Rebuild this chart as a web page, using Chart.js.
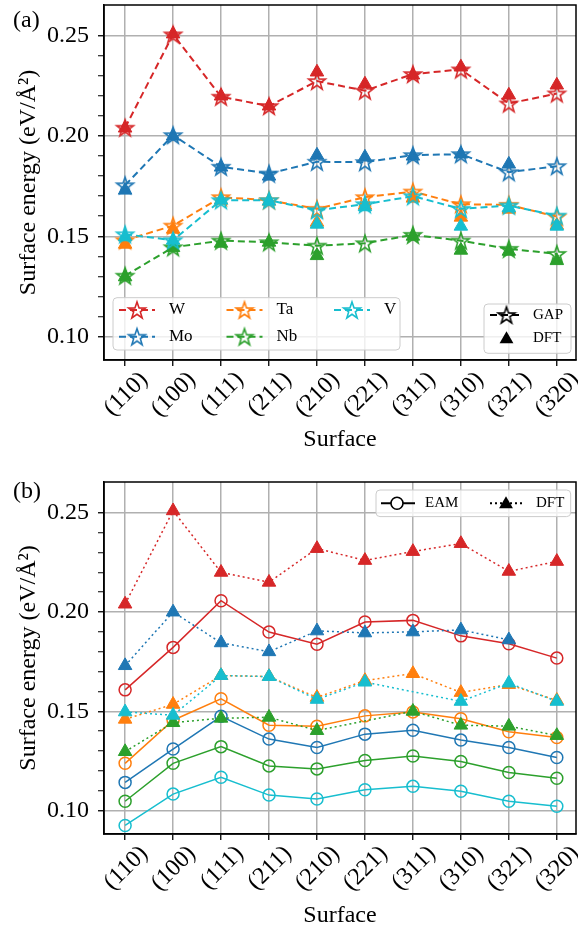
<!DOCTYPE html>
<html>
<head>
<meta charset="utf-8">
<script src="https://cdn.jsdelivr.net/npm/chart.js@4.4.1/dist/chart.umd.min.js"></script>
<style>
  html, body { margin: 0; padding: 0; background: #fff; }
  canvas { display: block; }
</style>
</head>
<body>
<canvas id="panelA" width="578" height="465"></canvas>
<canvas id="panelB" width="578" height="465"></canvas>
<script>
// surfaces on the x axis
const surfaces = ["(110)", "(100)", "(111)", "(211)", "(210)", "(221)", "(311)", "(310)", "(321)", "(320)"];
const elements = ["W", "Mo", "Ta", "Nb", "V"];
const colors = ["#d62728", "#1f77b4", "#ff7f0e", "#2ca02c", "#17becf"];

// GAP surface energies (eV/A^2)
const gapW  = [0.2042, 0.2508, 0.2197, 0.2150, 0.2275, 0.2227, 0.2310, 0.2333, 0.2163, 0.2213];
const gapMo = [0.1755, 0.2005, 0.1847, 0.1813, 0.1872, 0.1870, 0.1905, 0.1910, 0.1820, 0.1850];
const gapTa = [0.1480, 0.1553, 0.1695, 0.1680, 0.1637, 0.1695, 0.1723, 0.1660, 0.1657, 0.1598];
const gapNb = [0.1303, 0.1445, 0.1478, 0.1470, 0.1453, 0.1465, 0.1507, 0.1478, 0.1437, 0.1412];
const gapV  = [0.1510, 0.1480, 0.1680, 0.1680, 0.1630, 0.1660, 0.1700, 0.1637, 0.1653, 0.1603];

// DFT reference values (null = not computed)
const dftW  = [0.2040, 0.2510, 0.2200, 0.2150, 0.2320, 0.2260, 0.2305, 0.2345, 0.2205, 0.2255];
const dftMo = [0.1730, 0.2000, 0.1845, 0.1800, 0.1905, 0.1895, 0.1900, 0.1910, 0.1860, null];
const dftTa = [0.1460, 0.1535, 0.1680, 0.1675, 0.1570, 0.1655, 0.1690, 0.1595, 0.1635, 0.1555];
const dftNb = [0.1297, 0.1443, 0.1465, 0.1470, 0.1403, null, 0.1500, 0.1430, 0.1425, 0.1378];
const dftV  = [0.1497, 0.1480, 0.1680, 0.1675, 0.1560, 0.1647, null, 0.1550, 0.1642, 0.1550];

// EAM values
const eamW  = [0.1608, 0.1822, 0.2057, 0.1899, 0.1838, 0.1950, 0.1958, 0.1880, 0.1840, 0.1768];
const eamMo = [0.1142, 0.1310, 0.1475, 0.1360, 0.1318, 0.1385, 0.1405, 0.1355, 0.1318, 0.1267];
const eamTa = [0.1238, 0.1455, 0.1563, 0.1430, 0.1425, 0.1477, 0.1497, 0.1463, 0.1397, 0.1368];
const eamNb = [0.1047, 0.1238, 0.1322, 0.1225, 0.1210, 0.1252, 0.1275, 0.1247, 0.1192, 0.1163];
const eamV  = [0.0925, 0.1083, 0.1168, 0.1078, 0.1058, 0.1105, 0.1122, 0.1097, 0.1047, 0.1022];

const gapAll = [gapW, gapMo, gapTa, gapNb, gapV];
const dftAll = [dftW, dftMo, dftTa, dftNb, dftV];
const eamAll = [eamW, eamMo, eamTa, eamNb, eamV];

const SERIF = "'Liberation Serif', 'DejaVu Serif', serif";
const GRID = "#b0b0b0";

// missing values are dropped so the line joins its neighbours
const pts = (arr) => arr.map((v, i) => (v == null ? null : { x: i, y: v })).filter((p) => p);

function starPath(ctx, cx, cy, R) {
  const r = R * 0.4;
  ctx.beginPath();
  for (let k = 0; k < 10; k++) {
    const a = -Math.PI / 2 + (k * Math.PI) / 5;
    const rr = k % 2 ? r : R;
    ctx.lineTo(cx + rr * Math.cos(a), cy + rr * Math.sin(a));
  }
  ctx.closePath();
}

function starImage(color) {
  const R = 8.8, s = Math.ceil(2 * R + 4);
  const c = document.createElement("canvas");
  c.width = c.height = s;
  const g = c.getContext("2d");
  starPath(g, s / 2, s / 2 + 0.8, R);
  g.strokeStyle = color;
  g.lineWidth = 1.6;
  g.stroke();
  return c;
}

function triPath(ctx, cx, cy, r) {
  ctx.beginPath();
  for (let k = 0; k < 3; k++) {
    const a = -Math.PI / 2 + (k * 2 * Math.PI) / 3;
    ctx.lineTo(cx + r * Math.cos(a), cy + r * Math.sin(a));
  }
  ctx.closePath();
}

const isMajor = (v) => Math.abs(v * 20 - Math.round(v * 20)) < 1e-6;

function makeScales(xHeight, titlePadBottom) {
  return {
    x: {
      type: "linear",
      min: -0.44,
      max: 9.4,
      afterBuildTicks: (s) => { s.ticks = surfaces.map((_, i) => ({ value: i })); },
      afterFit: (s) => { s.height = xHeight; s.paddingLeft = 0; s.paddingRight = 0; },
      ticks: {
        autoSkip: false, minRotation: 45, maxRotation: 45,
        callback: (v) => surfaces[v], labelOffset: 19, padding: 0,
        color: "#000", font: { family: SERIF, size: 24 },
      },
      grid: { color: GRID, lineWidth: 1.5, tickColor: "#000", tickLength: 6, tickWidth: 1.3 },
      border: { color: "#000", width: 1.5 },
      title: { display: true, text: "Surface", color: "#000", font: { family: SERIF, size: 24 },
               padding: { top: 0, bottom: titlePadBottom } },
    },
    y: {
      min: 0.0882,
      max: 0.2655,
      afterFit: (s) => { s.width = 104; s.paddingTop = 0; s.paddingBottom = 0; },
      afterBuildTicks: (s) => {
        s.ticks = s.ticks.filter((t) => Math.abs(t.value * 100 - Math.round(t.value * 100)) < 1e-6);
      },
      ticks: {
        stepSize: 0.01, autoSkip: false, padding: 9,
        callback: (v) => (isMajor(v) ? v.toFixed(2) : ""),
        color: "#000", font: { family: SERIF, size: 24 },
      },
      grid: {
        color: (c) => (isMajor(c.tick.value) ? GRID : "rgba(0,0,0,0)"),
        lineWidth: 1.5, tickColor: "#000", tickLength: 6,
        tickWidth: (c) => (isMajor(c.tick.value) ? 1.3 : 1),
      },
      border: { color: "#000", width: 1.5 },
      title: { display: true, text: "Surface energy (eV/Å²)", color: "#000",
               font: { family: SERIF, size: 24 }, padding: { top: 14, bottom: 0 } },
    },
  };
}

function legendBox(ctx, x1, y1, x2, y2) {
  ctx.save();
  ctx.beginPath();
  ctx.roundRect(x1, y1, x2 - x1, y2 - y1, 4);
  ctx.fillStyle = "rgba(255,255,255,0.8)";
  ctx.fill();
  ctx.strokeStyle = "#cccccc";
  ctx.lineWidth = 1;
  ctx.stroke();
  ctx.restore();
}

function handleLine(ctx, x1, x2, y, color, dash, width) {
  ctx.save();
  ctx.beginPath();
  ctx.setLineDash(dash);
  ctx.moveTo(x1, y);
  ctx.lineTo(x2, y);
  ctx.strokeStyle = color;
  ctx.lineWidth = width;
  ctx.stroke();
  ctx.restore();
}

const framePlugin = {
  id: "frame",
  afterDraw(chart, args, opts) {
    const { ctx, chartArea: a } = chart;
    ctx.save();
    ctx.strokeStyle = "#000";
    ctx.lineWidth = 1.5;
    ctx.strokeRect(a.left, a.top, a.right - a.left, a.bottom - a.top);
    ctx.fillStyle = "#000";
    ctx.font = "24px " + SERIF;
    ctx.textBaseline = "middle";
    ctx.textAlign = "left";
    ctx.fillText(opts.label, 13, opts.labelY);
    ctx.restore();
    if (opts.legend) opts.legend(ctx, a);
  },
};

function legendA(ctx, a) {
  // element legend, lower left
  const x0 = a.left + 9, y1 = a.bottom - 10;
  legendBox(ctx, x0, y1 - 52.3, x0 + 287, y1);
  ctx.save();
  ctx.font = "17px " + SERIF;
  ctx.textBaseline = "middle";
  ctx.textAlign = "left";
  elements.forEach((el, k) => {
    const col = Math.floor(k / 2), row = k % 2;
    const lx = x0 + 6 + col * 107.5;
    const y = y1 - 40 + row * 26.7;
    handleLine(ctx, lx, lx + 36, y, colors[k], [7, 4], 2);
    ctx.drawImage(starImage(colors[k]), lx + 18 - 11, y - 11 + 0);
    ctx.fillStyle = "#000";
    ctx.fillText(el, lx + 50, y);
  });
  ctx.restore();

  // method legend, lower right
  const rx2 = a.right - 5, ry2 = a.bottom - 6.7;
  const rx1 = rx2 - 87, ry1 = ry2 - 49.3;
  legendBox(ctx, rx1, ry1, rx2, ry2);
  const hx = rx1 + 6, ty = ry1 + 11, dy = ry1 + 34.3;
  handleLine(ctx, hx, hx + 33, ty, "#000", [7, 4], 2);
  ctx.drawImage(starImage("#000"), hx + 16.5 - 11, ty - 11);
  ctx.save();
  ctx.fillStyle = "#000";
  triPath(ctx, hx + 16.5, dy + 1, 8);
  ctx.fill();
  ctx.font = "15px " + SERIF;
  ctx.textBaseline = "middle";
  ctx.fillText("GAP", rx1 + 49, ty);
  ctx.fillText("DFT", rx1 + 49, dy);
  ctx.restore();
}

function legendB(ctx, a) {
  const x2 = a.right - 5.3, y1 = a.top + 8;
  const x1 = x2 - 194.7, y2 = y1 + 26.6;
  legendBox(ctx, x1, y1, x2, y2);
  const y = (y1 + y2) / 2;
  handleLine(ctx, x1 + 5, x1 + 39, y, "#000", [], 2);
  ctx.save();
  ctx.beginPath();
  ctx.arc(x1 + 21, y, 6, 0, Math.PI * 2);
  ctx.fillStyle = "#fff";
  ctx.fill();
  ctx.strokeStyle = "#000";
  ctx.lineWidth = 1.6;
  ctx.stroke();
  ctx.restore();
  handleLine(ctx, x1 + 114, x1 + 146, y, "#000", [2, 3], 2);
  ctx.save();
  ctx.fillStyle = "#000";
  triPath(ctx, x1 + 130, y + 1, 8);
  ctx.fill();
  ctx.font = "15px " + SERIF;
  ctx.textBaseline = "middle";
  ctx.fillText("EAM", x1 + 49, y);
  ctx.fillText("DFT", x1 + 160, y);
  ctx.restore();
}

// ---- panel (a): GAP vs DFT ----
const dsA = [];
elements.forEach((el, k) => {
  dsA.push({
    label: el + " DFT", data: pts(dftAll[k]), showLine: false,
    pointStyle: "triangle", pointRadius: 7.8, backgroundColor: colors[k],
    borderColor: colors[k], pointBorderWidth: 1,
  });
  dsA.push({
    label: el + " GAP", data: pts(gapAll[k]), borderColor: colors[k], borderWidth: 2,
    borderDash: [7, 4], pointStyle: starImage(colors[k]), pointRadius: 9, fill: false,
  });
});

new Chart(document.getElementById("panelA"), {
  type: "line",
  data: { datasets: dsA.reverse() },
  options: {
    responsive: false, animation: false,
    layout: { autoPadding: false, padding: { top: 5, right: 2, left: 0, bottom: 0 } },
    plugins: { legend: { display: false }, tooltip: { enabled: false },
               frame: { label: "(a)", labelY: 21, legend: legendA } },
    scales: makeScales(105, 10.5),
  },
  plugins: [framePlugin],
});

// ---- panel (b): EAM vs DFT ----
const dsB = [];
elements.forEach((el, k) => {
  dsB.push({
    label: el + " EAM", data: pts(eamAll[k]), borderColor: colors[k], borderWidth: 1.5,
    pointStyle: "circle", pointRadius: 6, pointBorderWidth: 1.5,
    backgroundColor: "rgba(0,0,0,0)", fill: false,
  });
  dsB.push({
    label: el + " DFT", data: pts(dftAll[k]), borderColor: colors[k], borderWidth: 1.5,
    borderDash: [2, 3], pointStyle: "triangle", pointRadius: 7.8,
    backgroundColor: colors[k], pointBorderWidth: 1, fill: false,
  });
});

new Chart(document.getElementById("panelB"), {
  type: "line",
  data: { datasets: dsB.reverse() },
  options: {
    responsive: false, animation: false,
    layout: { autoPadding: false, padding: { top: 17, right: 2, left: 0, bottom: 0 } },
    plugins: { legend: { display: false }, tooltip: { enabled: false },
               frame: { label: "(b)", labelY: 27, legend: legendB } },
    scales: makeScales(96, 0),
  },
  plugins: [framePlugin],
});
</script>
</body>
</html>
